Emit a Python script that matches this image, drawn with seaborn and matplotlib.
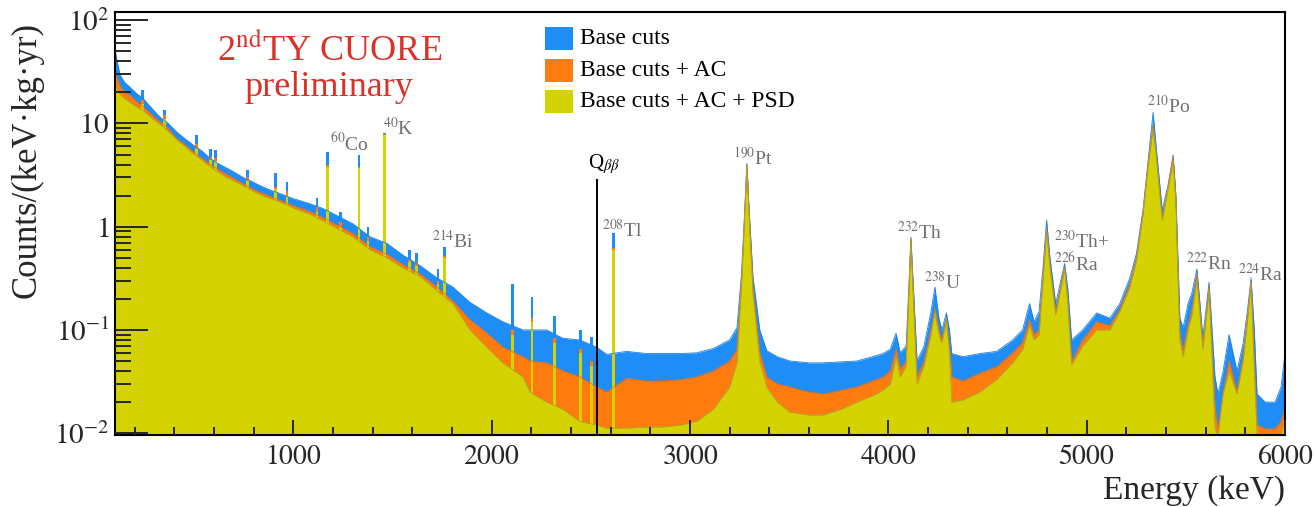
import matplotlib
matplotlib.use("Agg")
import numpy as np
import pandas as pd
import matplotlib.pyplot as plt
from matplotlib.patches import Rectangle
from matplotlib.ticker import FixedLocator, LogLocator, MultipleLocator, NullFormatter, FuncFormatter
import seaborn as sns

# ---- spectrum outline: energy (keV) and counts/(keV kg yr) for each selection ----
energy_kev = [100, 110, 127, 150, 177, 210, 242, 280, 328, 370, 414, 455, 495, 540, 580, 620, 665, 705,
              747, 790, 832, 875, 918, 960, 1000, 1040, 1084, 1150, 1235, 1300, 1386, 1472, 1553, 1639,
              1724, 1805, 1891, 1976, 2057, 2158, 2193, 2277, 2360, 2445, 2530, 2580, 2680, 2783, 2865,
              2950, 3033, 3117, 3200, 3237, 3260, 3275, 3287, 3298, 3318, 3352, 3387, 3440, 3504, 3600,
              3672, 3760, 3841, 3920, 3973, 4010, 4039, 4060, 4090, 4105, 4114, 4125, 4145, 4180, 4215,
              4235, 4255, 4270, 4293, 4308, 4320, 4375, 4460, 4546, 4627, 4677, 4712, 4735, 4760, 4780,
              4798, 4815, 4844, 4870, 4889, 4905, 4924, 4980, 5050, 5117, 5167, 5218, 5251, 5284, 5310,
              5335, 5350, 5381, 5410, 5436, 5450, 5470, 5486, 5511, 5531, 5556, 5586, 5617, 5635, 5647,
              5662, 5688, 5718, 5758, 5789, 5810, 5829, 5845, 5859, 5900, 5950, 5980, 6000]

base_cuts = [55, 42, 29.4, 25, 22.4, 19.5, 17.6, 14.5, 11.5, 10.0, 8.2, 7.1, 6.2, 5.4, 4.6, 4.1, 3.7, 3.35,
             3.0, 2.75, 2.5, 2.3, 2.15, 2.0, 1.87, 1.77, 1.67, 1.5, 1.24, 1.07, 0.8, 0.69, 0.53, 0.42,
             0.32, 0.26, 0.185, 0.146, 0.12, 0.10, 0.10, 0.10, 0.083, 0.08, 0.068, 0.058, 0.062, 0.059, 0.059,
             0.059, 0.06, 0.066, 0.08, 0.105, 0.35, 1.3, 4.1, 1.5, 0.32, 0.1, 0.063, 0.055, 0.05, 0.048,
             0.048, 0.049, 0.05, 0.055, 0.059, 0.065, 0.093, 0.06, 0.07, 0.3, 0.79, 0.3, 0.05, 0.07, 0.15,
             0.26, 0.13, 0.1, 0.146, 0.1, 0.059, 0.055, 0.059, 0.062, 0.08, 0.1, 0.18, 0.12, 0.15, 0.4,
             1.16, 0.5, 0.18, 0.3, 0.44, 0.25, 0.08, 0.1, 0.146, 0.13, 0.18, 0.32, 0.55, 1.45, 4.4,
             12.8, 6.0, 1.45, 2.5, 4.95, 2.0, 0.13, 0.105, 0.18, 0.23, 0.39, 0.085, 0.29, 0.08, 0.035,
             0.024, 0.04, 0.09, 0.04, 0.075, 0.15, 0.32, 0.1, 0.024, 0.02, 0.02, 0.028, 0.06]

base_cuts_ac = [32, 28, 23, 20, 18.8, 16.2, 14.5, 12.5, 10.3, 8.9, 7.1, 6.2, 5.3, 4.6, 4.0, 3.6, 3.2, 2.9,
                2.6, 2.35, 2.15, 2.0, 1.85, 1.72, 1.6, 1.5, 1.4, 1.22, 1.0, 0.86, 0.64, 0.54, 0.43, 0.35,
                0.26, 0.19, 0.125, 0.093, 0.068, 0.055, 0.05, 0.048, 0.04, 0.035, 0.028, 0.025, 0.034, 0.032, 0.032,
                0.033, 0.035, 0.04, 0.05, 0.065, 0.3, 1.2, 4.0, 1.4, 0.25, 0.06, 0.035, 0.03, 0.028, 0.025,
                0.024, 0.026, 0.028, 0.032, 0.035, 0.04, 0.065, 0.042, 0.05, 0.28, 0.77, 0.25, 0.035, 0.05, 0.1,
                0.16, 0.1, 0.08, 0.13, 0.07, 0.035, 0.032, 0.038, 0.044, 0.06, 0.076, 0.125, 0.09, 0.1, 0.33,
                0.96, 0.42, 0.15, 0.27, 0.41, 0.2, 0.05, 0.08, 0.12, 0.11, 0.16, 0.28, 0.5, 1.35, 4.1,
                9.6, 5.2, 1.2, 2.4, 4.8, 1.8, 0.09, 0.063, 0.11, 0.16, 0.35, 0.07, 0.26, 0.05, 0.018,
                0.0105, 0.025, 0.05, 0.025, 0.055, 0.13, 0.3, 0.05, 0.012, 0.011, 0.011, 0.013, 0.018]

base_cuts_ac_psd = [25, 22, 19, 17.5, 16, 14.5, 13.4, 11.6, 9.8, 8.4, 6.9, 6.0, 5.1, 4.4, 3.8, 3.4, 3.0, 2.75,
                    2.5, 2.25, 2.05, 1.9, 1.78, 1.65, 1.52, 1.42, 1.32, 1.14, 0.93, 0.8, 0.6, 0.5, 0.4, 0.33,
                    0.24, 0.18, 0.10, 0.068, 0.048, 0.035, 0.025, 0.02, 0.017, 0.013, 0.012, 0.0112, 0.0112, 0.0115, 0.0115,
                    0.012, 0.013, 0.017, 0.028, 0.048, 0.28, 1.15, 3.9, 1.35, 0.22, 0.05, 0.028, 0.02, 0.016, 0.015,
                    0.015, 0.017, 0.02, 0.023, 0.026, 0.03, 0.055, 0.035, 0.045, 0.27, 0.75, 0.24, 0.03, 0.045, 0.09,
                    0.15, 0.09, 0.075, 0.125, 0.06, 0.02, 0.021, 0.025, 0.033, 0.048, 0.065, 0.11, 0.08, 0.09, 0.3,
                    0.93, 0.4, 0.14, 0.25, 0.39, 0.18, 0.046, 0.07, 0.1, 0.1, 0.15, 0.26, 0.47, 1.3, 3.9,
                    9.0, 5.0, 1.15, 2.3, 4.3, 1.7, 0.08, 0.055, 0.1, 0.14, 0.31, 0.065, 0.24, 0.04, 0.011,
                    0.0095, 0.024, 0.04, 0.024, 0.05, 0.12, 0.28, 0.04, 0.0095, 0.009, 0.009, 0.0095, 0.014]

# ---- narrow gamma lines: energy (keV) and peak height for each selection ----
line_kev = [239, 352, 511, 583, 609, 768, 911, 969, 1120, 1173, 1238, 1332, 1377, 1461,
            1588, 1620, 1730, 1764, 2104, 2204, 2319, 2448, 2505, 2615]
line_base = [21, 13.5, 7.7, 5.6, 5.5, 3.5, 3.3, 2.7, 1.9, 5.3, 1.4, 4.95, 1.0, 8.0,
             0.6, 0.55, 0.39, 0.64, 0.28, 0.21, 0.137, 0.1, 0.085, 0.86]
line_ac = [17, 12, 6.3, 4.7, 4.6, 3.0, 2.4, 2.2, 1.55, 4.0, 1.1, 3.8, 0.8, 7.9,
           0.48, 0.45, 0.3, 0.52, 0.10, 0.13, 0.083, 0.065, 0.05, 0.62]
line_psd = [15.5, 11, 5.6, 4.4, 4.3, 2.8, 2.3, 2.0, 1.4, 3.8, 1.0, 3.7, 0.72, 7.8,
            0.45, 0.42, 0.28, 0.5, 0.09, 0.12, 0.075, 0.06, 0.045, 0.6]

selections = ["Base cuts", "Base cuts + AC", "Base cuts + AC + PSD"]
q_bb_kev = 2530
q_bb_top = 2.9

peak_names = [r"$^{60}$Co", r"$^{40}$K", r"$^{214}$Bi", r"$^{208}$Tl", r"$^{190}$Pt", r"$^{232}$Th",
              r"$^{238}$U", r"$^{230}$Th+" + "\n" + r"$^{226}$Ra", r"$^{210}$Po", r"$^{222}$Rn", r"$^{224}$Ra"]
peak_name_kev = [1185, 1452, 1699, 2556, 3217, 4043, 4179, 4833, 5302, 5499, 5761]
peak_name_counts = [6.4, 9.0, 0.74, 0.93, 4.7, 0.89, 0.29, 0.57, 15.0, 0.44, 0.35]

# ---- styling ----
sns.set_theme(style="ticks")
plt.rcParams["font.family"] = ["Liberation Serif", "DejaVu Serif"]
plt.rcParams["mathtext.fontset"] = "stix"

colors = {"Base cuts": "#1e8ef6", "Base cuts + AC": "#ff7b0e", "Base cuts + AC + PSD": "#d4d200"}
edges = {"Base cuts": "#1b80e0", "Base cuts + AC": "#ee7010", "Base cuts + AC + PSD": "#a9a634"}

W, H = 1315, 507
fig = plt.figure(figsize=(W / 100, H / 100), dpi=100)
ax_l, ax_r, ax_t, ax_b = 114.7, 1285, 12, 435
ax = fig.add_axes([ax_l / W, 1 - ax_b / H, (ax_r - ax_l) / W, (ax_b - ax_t) / H])

spectrum = pd.DataFrame({
    "energy": energy_kev * 3,
    "counts": base_cuts + base_cuts_ac + base_cuts_ac_psd,
    "selection": np.repeat(selections, len(energy_kev)),
})
lines = pd.DataFrame({
    "energy": line_kev * 3,
    "counts": line_base + line_ac + line_psd,
    "selection": np.repeat(selections, len(line_kev)),
})

floor = 0.004
for sel in selections:
    s = spectrum[spectrum["selection"] == sel]
    g = lines[lines["selection"] == sel]
    ax.fill_between(s["energy"], floor, s["counts"], color=colors[sel], lw=0, zorder=2)
    ax.bar(g["energy"], g["counts"] - floor, bottom=floor, width=14, color=colors[sel], lw=0, zorder=2)
    sns.lineplot(data=s, x="energy", y="counts", color=edges[sel], lw=0.6,
                 estimator=None, ax=ax, zorder=2.5)

ax.set_yscale("log")
ax.set_xlim(100, 6000)
ax.set_ylim(0.0096, 120)

# Q-value marker
ax.vlines(q_bb_kev, 0.0096, q_bb_top, color="black", lw=1.4, zorder=4)
ax.text(q_bb_kev - 45, 4.0, r"Q$_{\beta\beta}$", fontsize=15, color="black", ha="left", va="center", zorder=5)

for name, e, c in zip(peak_names, peak_name_kev, peak_name_counts):
    ax.text(e, c, name, fontsize=14, color="#6f6f6f", ha="left", va="center",
            linespacing=1.0, zorder=5)

# ticks
ax.yaxis.set_major_locator(FixedLocator([1e-2, 1e-1, 1, 10, 100]))
ax.yaxis.set_minor_locator(LogLocator(base=10, subs=np.arange(2, 10)))
ax.yaxis.set_minor_formatter(NullFormatter())
ylabels = {1e-2: r"$10^{-2}$", 1e-1: r"$10^{-1}$", 1: r"$1$", 10: r"$10$", 100: r"$10^{2}$"}
ax.yaxis.set_major_formatter(FuncFormatter(lambda v, p: ylabels.get(round(v, 6), "")))
ax.xaxis.set_major_locator(MultipleLocator(1000))
ax.xaxis.set_minor_locator(MultipleLocator(200))
ax.xaxis.set_major_formatter(FuncFormatter(lambda v, p: rf"${int(v)}$"))

ax.tick_params(axis="y", which="major", direction="in", length=24, width=1.4, labelsize=21, pad=4,
               left=True, right=False)
ax.tick_params(axis="y", which="minor", direction="in", length=11.5, width=1.4, left=True, right=False)
ax.tick_params(axis="x", which="major", direction="in", length=11, width=1.4, labelsize=20, pad=7,
               bottom=True, top=False)
ax.tick_params(axis="x", which="minor", direction="in", length=5.5, width=1.4, bottom=True, top=False)
for sp in ax.spines.values():
    sp.set_visible(True)
    sp.set_color("black")
    sp.set_linewidth(1.5)
ax.set_axisbelow(False)

ax.set_xlabel("Energy (keV)", fontsize=24, loc="right", labelpad=4)
ax.set_ylabel("")
fig.text(27 / W, 1 - 160 / H, "Counts/(keV·kg·yr)", fontsize=25, rotation=90,
         ha="center", va="center")

# title block
fig.text(330 / W, 1 - 50 / H, r"2$^{\rm nd}$TY CUORE", fontsize=26, color="#dc3128", ha="center", va="center")
fig.text(329 / W, 1 - 88 / H, "preliminary", fontsize=26, color="#dc3128", ha="center", va="center")

# legend
for i, sel in enumerate(selections):
    cy = 38.5 + 31.5 * i
    fig.patches.append(Rectangle((545 / W, 1 - (cy + 11.5) / H), 28 / W, 23 / H,
                                 transform=fig.transFigure, facecolor=colors[sel], edgecolor="none"))
    fig.text(580 / W, 1 - cy / H, sel, fontsize=17, color="black", ha="left", va="center")

fig.savefig("out.png", dpi=100)
